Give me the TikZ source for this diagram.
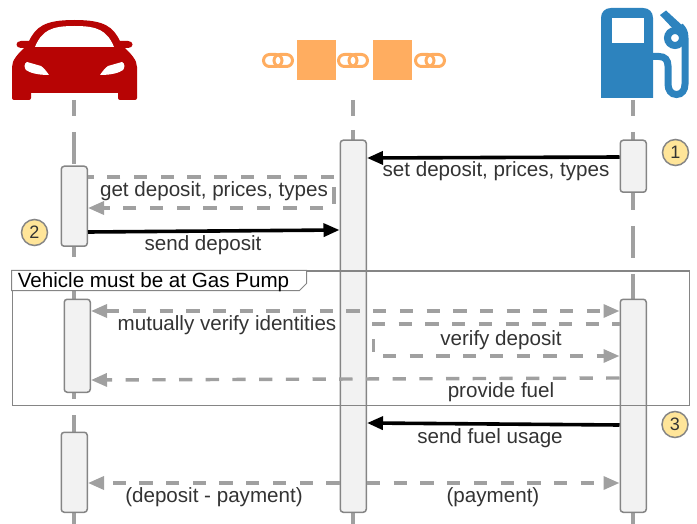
\documentclass[tikz,border=0pt]{standalone}
\usepackage{fontspec}
\setmainfont{Liberation Sans}
\usetikzlibrary{arrows.meta}
\definecolor{lineg}{HTML}{A0A0A0}
\definecolor{edgeg}{HTML}{858585}
\definecolor{txtg}{HTML}{333333}
\definecolor{carred}{HTML}{B70404}
\definecolor{chainor}{HTML}{FFAD60}
\definecolor{pumpbl}{HTML}{2D83BE}
\definecolor{badge}{HTML}{FFE599}
\tikzset{
  life/.style={draw=lineg,line width=3.4pt},
  actbox/.style={draw=edgeg,fill=black!5,line width=1.5pt,rounded corners=3pt,minimum width=26pt,inner sep=0pt,anchor=north west},
  lbl/.style={font=\fontsize{20.6}{24}\selectfont,text=txtg,inner sep=0pt},
  callout/.style={circle,draw=edgeg,fill=badge,line width=1.5pt,minimum size=26pt,inner sep=0pt,font=\fontsize{18}{20}\selectfont,text=txtg},
  solidmsg/.style={draw=black,line width=3.6pt,-{Triangle[length=16pt,width=13pt]}},
  dashmsg/.style={draw=lineg,line width=3.4pt,dash pattern=on 13.3pt off 13.4pt},
  greytip/.style={-{Triangle[length=16pt,width=13pt,color=lineg]}},
  greytips/.style={{Triangle[length=16pt,width=13pt,color=lineg]}-{Triangle[length=16pt,width=13pt,color=lineg]}},
  link/.style={draw=chainor,line width=3pt,rounded corners=6pt}
}
\begin{document}
\begin{tikzpicture}[x=1pt,y=-1pt]
\useasboundingbox (0,0) rectangle (697,524);
% lifelines
\foreach \a/\b in {100/116,132/164,246/257,291/299,392/399,415/432,512/524}
  \draw[life] (74,\a) -- (74,\b);
\foreach \a/\b in {100/116,130/140,512/524}
  \draw[life] (353,\a) -- (353,\b);
\foreach \a/\b in {100/116,132/140,192/210,226/258,274/299,512/524}
  \draw[life] (633,\a) -- (633,\b);
% car icon
\fill[carred] (12,98) -- (12,67) .. controls (12,60) and (18,54) .. (24,48)
  -- (21,48) .. controls (15,48) and (15,41) .. (21,41) -- (29,41)
  .. controls (36,27) and (44,20) .. (74.5,20) .. controls (105,20) and (113,27) .. (120,41)
  -- (128,41) .. controls (134,41) and (134,48) .. (128,48) -- (125,48)
  .. controls (131,54) and (137,60) .. (137,67) -- (137,98) .. controls (137,99) and (136,100) .. (135,100)
  -- (120,100) .. controls (119,100) and (118,99) .. (118,98) -- (118,93) -- (31,93) -- (31,98)
  .. controls (31,99) and (30,100) .. (29,100) -- (14,100) .. controls (13,100) and (12,99) .. (12,98) -- cycle;
\fill[white] (35,47) .. controls (42,30) and (52,26) .. (74.5,26) .. controls (97,26) and (107,30) .. (114,47) -- cycle;
\fill[white] (27,62) -- (41,66) .. controls (44,68) and (47,72) .. (49,75) .. controls (38,75) and (30,73) .. (26,70) .. controls (24,68) and (24,63) .. (27,62) -- cycle;
\fill[white] (122,62) -- (108,66) .. controls (105,68) and (102,72) .. (100,75) .. controls (111,75) and (119,73) .. (123,70) .. controls (125,68) and (125,63) .. (122,62) -- cycle;
% chain icon
\fill[chainor] (296.5,40) rectangle (336,80);
\fill[chainor] (372.5,40) rectangle (412,80);
\foreach \c in {278,353,430}{
  \draw[link] (\c-14.5,54.5) rectangle (\c+4,66.5);
  \draw[link] (\c-4,54.5) rectangle (\c+14.5,66.5);
}
% pump icon
\fill[pumpbl] (601,98) -- (601,18) .. controls (601,12) and (605,8) .. (611,8) -- (643,8) .. controls (649,8) and (653,12) .. (653,18) -- (653,98) -- cycle;
\fill[white] (612,18) rectangle (644,43);
\draw[pumpbl,line width=7pt] (653,56.5) -- (659,56.5) .. controls (665,56.5) and (668,60) .. (668,66) -- (668,84)
  .. controls (668,90) and (671,94.5) .. (676.5,94.5) .. controls (682,94.5) and (685,90) .. (685,84) -- (685,38) .. controls (685,32) and (683,29) .. (680,26);
\fill[pumpbl] (660,15) -- (666,10.5) -- (684,27) -- (678,34) -- cycle;
\draw[pumpbl,line width=7pt] (675,38) circle (7.5);
% activations
\node[actbox,minimum height=372pt] (mid) at (339.5,139.5) {};
\node[actbox,minimum height=52pt] (pumpA) at (619.5,139.5) {};
\node[actbox,minimum height=213pt] (pumpB) at (619.5,298.5) {};
\node[actbox,minimum height=80pt] (carA) at (60.5,165.5) {};
\node[actbox,minimum height=93pt] (carB) at (63.5,298.5) {};
\node[actbox,minimum height=80pt] (carC) at (60.5,431.5) {};
% messages
\coordinate (getT) at (334,177);
\coordinate (getV) at (334,187);
\coordinate (getW) at (334,204);
\coordinate (getB) at (334,208);
\coordinate (verT) at (372,324);
\coordinate (verU) at (373.5,339);
\coordinate (verV) at (373.5,352);
\coordinate (verB) at (383,356);
\draw[solidmsg] (pumpA.west |- 0,157) -- (mid.east |- 0,158);
\draw[dashmsg] (getT) -- (carA.east |- 0,177);
\draw[life] (getV) -- (getW);
\draw[dashmsg,greytip,dash phase=16pt] (getB) -- (carA.east |- 0,208);
\draw[solidmsg] (carA.east |- 0,232) -- (mid.west |- 0,230);
\draw[dashmsg,greytips] (carB.east |- 0,311) -- (pumpB.west |- 0,311);
\draw[dashmsg] (verT) -- (pumpB.west |- 0,324);
\draw[life] (verU) -- (verV);
\draw[dashmsg,greytip] (verB) -- (pumpB.west |- 0,356);
\draw[dashmsg,greytip] (pumpB.west |- 0,378) -- (carB.east |- 0,380);
\draw[solidmsg] (pumpB.west |- 0,425) -- (mid.east |- 0,423);
\draw[dashmsg,greytip] (mid.west |- 0,483) -- (carC.east |- 0,483);
\draw[dashmsg,greytip] (mid.east |- 0,483) -- (pumpB.west |- 0,483);
% frame
\node[draw=edgeg,line width=1.4pt,minimum width=677pt,minimum height=134pt,inner sep=0pt,anchor=north west] (frame) at (11.5,270.5) {};
\draw[draw=edgeg,line width=1pt,fill=white] (11.5,270.5) -- (306.5,270.5) -- (306.5,283.5) -- (299.5,290.5) -- (11.5,290.5) -- cycle;
\node[lbl,text=black] (ftitle) at (153.5,282) {Vehicle must be at Gas Pump};
% labels
\node[lbl] (l1) at (496,171.5) {set deposit, prices, types};
\node[lbl] (l2) at (214,191.5) {get deposit, prices, types};
\node[lbl] (l3) at (203,245) {send deposit};
\node[lbl] (l4) at (227,325) {mutually verify identities};
\node[lbl] (l5) at (501,340.5) {verify deposit};
\node[lbl] (l6) at (501,392.5) {provide fuel};
\node[lbl] (l7) at (490,438.5) {send fuel usage};
\node[lbl] (l8) at (214,497.5) {(deposit - payment)};
\node[lbl] (l9) at (493,497.5) {(payment)};
\node[callout] (c1) at (675.5,152.5) {1};
\node[callout] (c2) at (34.5,232.5) {2};
\node[callout] (c3) at (675,424.5) {3};
\end{tikzpicture}
\end{document}
